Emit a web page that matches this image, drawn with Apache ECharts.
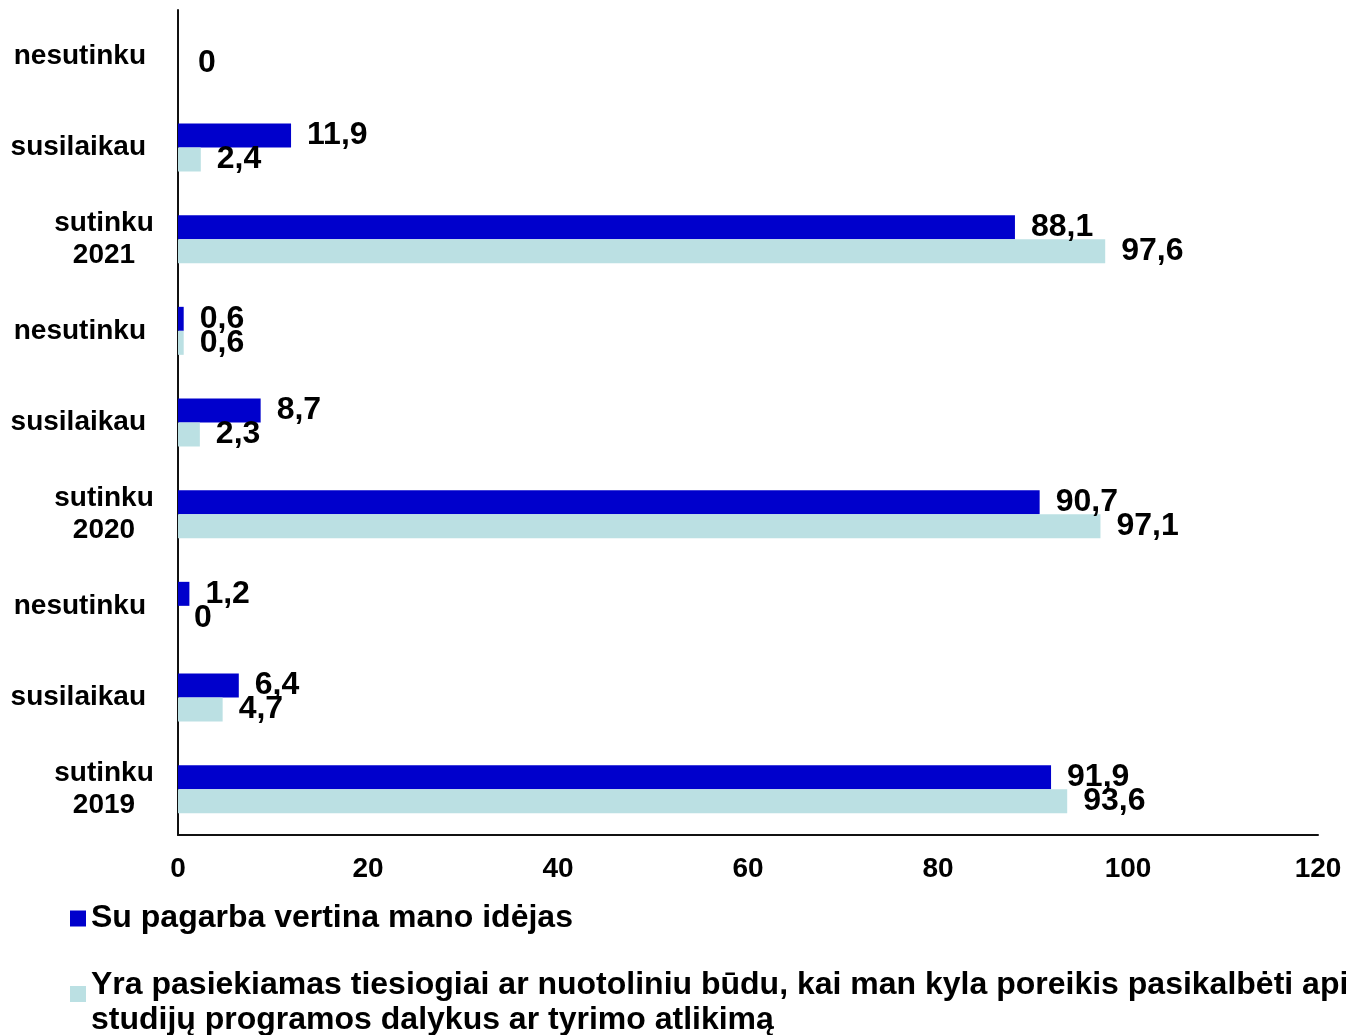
<!DOCTYPE html>
<html>
<head>
<meta charset="utf-8">
<script src="https://cdn.jsdelivr.net/npm/echarts@6/dist/echarts.min.js"></script>
<style>
html,body{margin:0;padding:0;background:#fff;}
#chart{width:1346px;height:1035px;}
</style>
</head>
<body>
<div id="chart"></div>
<script>
// Categories listed bottom to top
var categories = ['sutinku\n2019', 'susilaikau', 'nesutinku', 'sutinku\n2020', 'susilaikau', 'nesutinku', 'sutinku\n2021', 'susilaikau', 'nesutinku'];
var seriesNames = ['Su pagarba vertina mano idėjas', 'Yra pasiekiamas tiesiogiai ar nuotoliniu būdu, kai man kyla poreikis pasikalbėti apie studijų programos dalykus ar tyrimo atlikimą'];
var valuesRespect = [91.9, 6.4, 1.2, 90.7, 8.7, 0.6, 88.1, 11.9, null];
var valuesReachable = [93.6, 4.7, 0, 97.1, 2.3, 0.6, 97.6, 2.4, 0];
var xTicks = [0, 20, 40, 60, 80, 100, 120];

var FONT = "'Liberation Sans', Arial, sans-serif";
var chart = echarts.init(document.getElementById('chart'), null, {renderer: 'canvas'});

function fmtVal(p) {
  if (p.value === null || p.value === undefined || p.value === '-') return '';
  return String(p.value).replace('.', ',');
}

var reachData = valuesReachable.map(function (v, i) {
  if (i === valuesReachable.length - 1) {
    return {value: v, label: {offset: [4, -5]}};
  }
  return v;
});

var labelStyle = {
  show: true, position: 'right', distance: 16,
  fontFamily: FONT, fontWeight: 'bold', fontSize: 32, color: '#000',
  formatter: fmtVal
};

var legendText = {fontFamily: FONT, fontWeight: 'bold', fontSize: 32, lineHeight: 35, color: '#000'};

var option = {
  backgroundColor: '#fff',
  animation: false,
  grid: {left: 178, right: 28, top: 10, bottom: 200, containLabel: false},
  xAxis: {
    type: 'value', min: xTicks[0], max: xTicks[xTicks.length - 1], interval: 20,
    axisLine: {show: true, lineStyle: {color: '#111', width: 2}},
    axisTick: {show: false},
    splitLine: {show: false},
    axisLabel: {margin: 20, fontFamily: FONT, fontWeight: 'bold', fontSize: 28, color: '#000'}
  },
  yAxis: {
    type: 'category', data: categories,
    axisLine: {show: true, lineStyle: {color: '#111', width: 2}},
    axisTick: {show: false},
    axisLabel: {
      margin: 24, color: '#000',
      fontFamily: FONT, fontWeight: 'bold', fontSize: 28,
      formatter: function (v) {
        if (v.indexOf('\n') >= 0) {
          return v.split('\n').map(function (s) { return '{c|' + s + '}'; }).join('\n');
        }
        return '{p|' + v + '}';
      },
      rich: {
        c: {width: 100, align: 'center', fontFamily: FONT, fontWeight: 'bold', fontSize: 28, lineHeight: 32, color: '#000'},
        p: {padding: [0, 8, 0, 0], fontFamily: FONT, fontWeight: 'bold', fontSize: 28, lineHeight: 32, color: '#000'}
      }
    }
  },
  legend: [
    {
      data: [seriesNames[0]], left: 65, top: 896, orient: 'vertical',
      itemWidth: 16, itemHeight: 16, itemGap: 0, icon: 'rect',
      textStyle: legendText
    },
    {
      data: [seriesNames[1]], left: 65, top: 952, orient: 'vertical',
      itemWidth: 16, itemHeight: 16, itemGap: 0, icon: 'rect',
      formatter: function (n) {
        var parts = n.replace(' apie ', ' apie\n').split('\n');
        return '{e| }\n' + parts.map(function (s) { return '{t|' + s + '}'; }).join('\n');
      },
      textStyle: {
        fontFamily: FONT, fontWeight: 'bold', fontSize: 32, color: '#000',
        rich: {
          e: {fontSize: 4, lineHeight: 18},
          t: legendText
        }
      }
    }
  ],
  series: [
    {
      name: seriesNames[0], type: 'bar', data: valuesRespect,
      barWidth: 24, barGap: '0%',
      itemStyle: {color: '#0000CC'},
      label: labelStyle
    },
    {
      name: seriesNames[1], type: 'bar', data: reachData,
      barWidth: 24, barGap: '0%',
      itemStyle: {color: '#BBE0E3'},
      label: labelStyle
    }
  ]
};
chart.setOption(option);
</script>
</body>
</html>
